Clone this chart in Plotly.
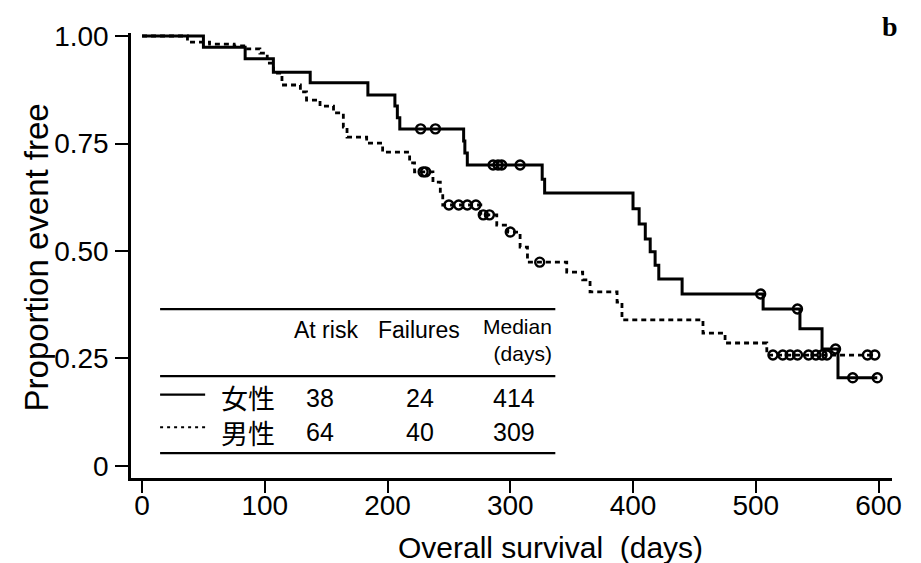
import numpy as np
import plotly.graph_objects as go

# ---------------- data ----------------
# Female (女性): event times (days) and Kaplan-Meier survival after each event
fem_times = [0, 50, 84, 107, 137, 184, 206, 208, 210, 262, 263, 265, 326, 328,
             400, 405, 410, 414, 418, 421, 440, 506, 536, 554, 567]
fem_surv = [1.0, 0.974, 0.947, 0.916, 0.891, 0.863, 0.837, 0.810, 0.784, 0.756, 0.728, 0.700,
            0.667, 0.635, 0.598, 0.563, 0.528, 0.498, 0.467, 0.435, 0.400, 0.365, 0.319,
            0.272, 0.205]
fem_censor = [227, 239, 286, 290, 293, 308, 504, 534, 565, 579, 599]

# Male (男性)
male_times = [0, 37, 55, 75, 86, 96, 102, 107, 114, 129, 134, 145, 156, 164, 167, 183, 196,
              218, 222, 237, 243, 245, 276, 289, 298, 308, 314, 346, 359, 365, 387, 391,
              457, 475, 509]
male_surv = [1.0, 0.986, 0.981, 0.977, 0.970, 0.960, 0.937, 0.914, 0.886, 0.870, 0.851,
             0.837, 0.821, 0.788, 0.765, 0.751, 0.730, 0.705, 0.684, 0.660, 0.635, 0.607,
             0.584, 0.560, 0.544, 0.509, 0.474, 0.451, 0.433, 0.405, 0.381, 0.340, 0.309,
             0.286, 0.258]
male_censor = [229, 231, 250, 258, 265, 272, 278, 283, 300, 324, 514, 522, 528, 534,
               543, 549, 554, 558, 591, 597]

x_ticks = [0, 100, 200, 300, 400, 500, 600]
y_ticks = [0, 0.25, 0.5, 0.75, 1.0]
y_ticktext = ["0", "0.25", "0.50", "0.75", "1.00"]

groups = ["女性", "男性"]
at_risk = [38, 64]
failures = [24, 40]
median_days = [414, 309]
headers = ["At risk", "Failures", "Median<br>(days)"]

SANS = "Liberation Sans, Arial, sans-serif"
CJK = "Noto Sans CJK JP, Noto Sans CJK SC, sans-serif"


def step_value(times, surv, t):
    idx = np.searchsorted(np.array(times), t, side="right") - 1
    return surv[idx]


def curve(times, surv, censor):
    end = max(censor[-1], times[-1])
    x = list(times) + [end]
    y = list(surv) + [surv[-1]]
    cy = [step_value(times, surv, t) for t in censor]
    return x, y, cy


fig = go.Figure()

fx, fy, fcy = curve(fem_times, fem_surv, fem_censor)
mx, my, mcy = curve(male_times, male_surv, male_censor)

fig.add_trace(go.Scatter(x=mx, y=my, mode="lines",
                         line=dict(shape="hv", color="black", width=2.8, dash="5px,4px"),
                         name="男性", showlegend=False, hoverinfo="skip"))
fig.add_trace(go.Scatter(x=male_censor, y=mcy, mode="markers",
                         marker=dict(symbol="circle-open", size=9, color="black", line=dict(width=2.4)),
                         showlegend=False, hoverinfo="skip"))
fig.add_trace(go.Scatter(x=fx, y=fy, mode="lines", line=dict(shape="hv", color="black", width=3),
                         name="女性", showlegend=False, hoverinfo="skip"))
fig.add_trace(go.Scatter(x=fem_censor, y=fcy, mode="markers",
                         marker=dict(symbol="circle-open", size=9, color="black", line=dict(width=2.4)),
                         showlegend=False, hoverinfo="skip"))

# ---------------- table ----------------
tx0, tx1 = 14.7, 336.7
for yy in [0.365, 0.209, 0.030]:
    fig.add_shape(type="line", xref="x", yref="y", x0=tx0, x1=tx1, y0=yy, y1=yy,
                  line=dict(color="black", width=2.2))

fig.add_annotation(x=150, y=0.316, xref="x", yref="y", text=headers[0], showarrow=False,
                   font=dict(family=SANS, size=23, color="black"))
fig.add_annotation(x=225.8, y=0.316, xref="x", yref="y", text=headers[1], showarrow=False,
                   font=dict(family=SANS, size=23, color="black"))
fig.add_annotation(x=336, y=0.293, xref="x", yref="y", text=headers[2], showarrow=False,
                   xanchor="right", yanchor="middle", align="right",
                   font=dict(family=SANS, size=21, color="black"))

row_y = [0.158, 0.079]
leg_y = [0.166, 0.090]
dashes = ["solid", "3px,4px"]
fig.add_annotation(x=86.4, y=0.1186, xref="x", yref="y", text="<br>".join(groups), showarrow=False,
                   font=dict(family=CJK, size=27, color="black"))
for i in range(2):
    fig.add_shape(type="line", xref="x", yref="y", x0=tx0, x1=51.4, y0=leg_y[i], y1=leg_y[i],
                  line=dict(color="black", width=2.2, dash=dashes[i]))
    fig.add_annotation(x=145, y=row_y[i], xref="x", yref="y", text=str(at_risk[i]), showarrow=False,
                       font=dict(family=SANS, size=25, color="black"))
    fig.add_annotation(x=226.6, y=row_y[i], xref="x", yref="y", text=str(failures[i]), showarrow=False,
                       font=dict(family=SANS, size=25, color="black"))
    fig.add_annotation(x=303, y=row_y[i], xref="x", yref="y", text=str(median_days[i]), showarrow=False,
                       font=dict(family=SANS, size=25, color="black"))

# panel label
fig.add_annotation(x=0.998, y=1.0135, xref="paper", yref="paper", text="<b>b</b>", showarrow=False,
                   xanchor="center", yanchor="middle",
                   font=dict(family="Liberation Serif, DejaVu Serif, serif", size=28, color="black"))

# axis titles (placed as in the original)
fig.add_annotation(x=333, y=-0.157, xref="x", yref="paper", text="Overall survival  (days)",
                   showarrow=False, xanchor="center", yanchor="middle",
                   font=dict(family=SANS, size=30, color="black"))
fig.add_annotation(x=-0.1248, y=0.485, xref="paper", yref="y", text="Proportion event free",
                   showarrow=False, textangle=-90, xanchor="center", yanchor="middle",
                   font=dict(family=SANS, size=33, color="black"))

# the page body adds an 8px offset; margins compensate so the plot sits where the original's does
fig.update_layout(
    width=921, height=563,
    margin=dict(l=123, r=37, t=25, b=93),
    paper_bgcolor="white", plot_bgcolor="white",
    showlegend=False,
    xaxis=dict(range=[-9, 611], tickvals=x_ticks, ticks="outside", ticklen=12, tickwidth=2,
               tickcolor="black", showline=True, linewidth=2.5, linecolor="black",
               showgrid=False, zeroline=False, automargin=False, ticklabelstandoff=-11,
               tickfont=dict(family=SANS, size=28, color="black")),
    yaxis=dict(range=[-0.028, 1.007], tickvals=y_ticks, ticktext=y_ticktext, ticks="outside",
               ticklen=13, tickwidth=2, tickcolor="black", showline=True, linewidth=2.5,
               linecolor="black", showgrid=False, zeroline=False, ticklabelstandoff=1,
               automargin=False,
               tickfont=dict(family=SANS, size=28, color="black")),
)

fig.write_html("out.html")
